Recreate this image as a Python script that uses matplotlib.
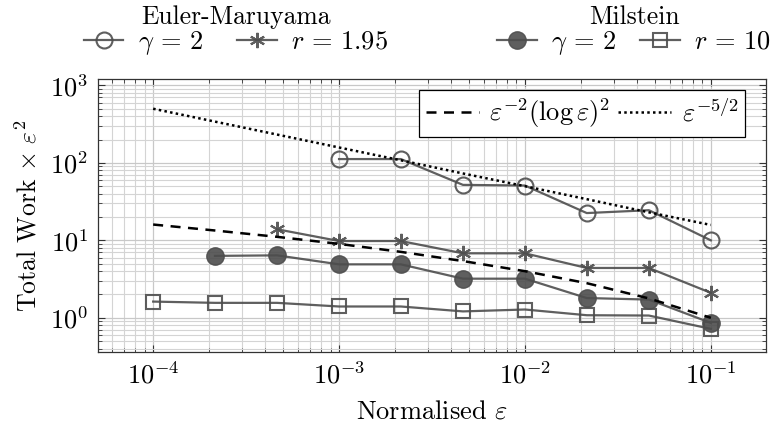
import matplotlib
matplotlib.use("Agg")
import matplotlib.pyplot as plt

plt.rcParams["font.family"] = "serif"
plt.rcParams["font.serif"] = ["cmr10"]
plt.rcParams["mathtext.fontset"] = "cm"
plt.rcParams["axes.formatter.use_mathtext"] = True

# ---------------------------------------------------------------------------
# Data
# ---------------------------------------------------------------------------
eps = [1e-4, 2.15e-4, 4.64e-4, 1e-3, 2.15e-3, 4.64e-3, 1e-2, 2.15e-2, 4.64e-2, 1e-1]

em_gamma_x = [1e-3, 2.15e-3, 4.64e-3, 1e-2, 2.15e-2, 4.64e-2, 1e-1]
em_gamma_y = [112, 112, 52, 51, 22.5, 24.5, 10.0]

em_r_x = [4.64e-4, 1e-3, 2.15e-3, 4.64e-3, 1e-2, 2.15e-2, 4.64e-2, 1e-1]
em_r_y = [13.9, 9.8, 9.8, 6.8, 6.8, 4.4, 4.4, 2.1]

mil_gamma_x = [2.15e-4, 4.64e-4, 1e-3, 2.15e-3, 4.64e-3, 1e-2, 2.15e-2, 4.64e-2, 1e-1]
mil_gamma_y = [6.3, 6.4, 4.9, 4.9, 3.2, 3.2, 1.8, 1.72, 0.86]

mil_r_x = eps
mil_r_y = [1.62, 1.56, 1.56, 1.40, 1.40, 1.21, 1.28, 1.08, 1.07, 0.72]

# reference slopes
ref_log_y = [16.0, 13.4, 11.1, 9.0, 7.1, 5.4, 4.0, 2.8, 1.78, 1.0]
ref_pow_y = [500, 341, 232, 158, 108, 73, 50, 34, 23, 15.8]

GREY = "#4d4d4d"

fig = plt.figure(figsize=(7.8, 4.29), dpi=100)
ax = fig.add_axes([98 / 780, 1 - 352 / 429, (766 - 98) / 780, (352 - 79) / 429])

ax.set_xscale("log")
ax.set_yscale("log")
ax.set_xlim(5.05e-5, 0.198)
ax.set_ylim(0.362, 1210)

ax.grid(True, which="major", color="#c8c8c8", linewidth=0.9)
ax.grid(True, which="minor", color="#d4d4d4", linewidth=0.8)
ax.set_axisbelow(True)

line_kw = dict(color=GREY, linewidth=1.6, alpha=0.9)
h1, = ax.plot(em_gamma_x, em_gamma_y, marker="o", markersize=11.5,
              markerfacecolor="none", markeredgecolor=GREY, markeredgewidth=1.5, **line_kw)
h2, = ax.plot(em_r_x, em_r_y, marker=(6, 2, 0), markersize=11,
              markeredgecolor=GREY, markeredgewidth=1.5, **line_kw)
h3, = ax.plot(mil_gamma_x, mil_gamma_y, marker="o", markersize=12.5,
              markerfacecolor=GREY, markeredgecolor=GREY, **line_kw)
h4, = ax.plot(mil_r_x, mil_r_y, marker="s", markersize=10.5,
              markerfacecolor="none", markeredgecolor=GREY, markeredgewidth=1.5, **line_kw)

r1, = ax.plot(eps, ref_log_y, color="black", linestyle=(0, (4, 3)), linewidth=1.8)
r2, = ax.plot(eps, ref_pow_y, color="black", linestyle=(0, (1, 1.3)), linewidth=1.8)

ax.tick_params(which="both", direction="in", top=True, right=True, color="#333333")
ax.tick_params(which="major", length=5, width=0.8, labelsize=19, pad=7)
ax.tick_params(which="minor", length=3, width=0.6)
for s in ax.spines.values():
    s.set_linewidth(0.9)
    s.set_color("#333333")

ax.set_xlabel(r"Normalised $\varepsilon$", fontsize=19, labelpad=8)
ax.set_ylabel(r"Total Work $\times\ \varepsilon^2$", fontsize=18.5, labelpad=6)

leg = ax.legend([r1, r2], [r"$\varepsilon^{-2}(\log\varepsilon)^2$", r"$\varepsilon^{-5/2}$"],
                ncol=2, loc="upper right", bbox_to_anchor=(0.969, 0.96), fontsize=19,
                fancybox=False, framealpha=1, edgecolor="black", handlelength=2.0,
                columnspacing=0.3, handletextpad=0.4, borderpad=0.25, borderaxespad=0.0)
leg.get_frame().set_linewidth(0.9)

common = dict(ncol=2, title_fontsize=18.5, fontsize=19, loc="center", frameon=False,
              handlelength=1.5, handletextpad=0.55, borderpad=0.0,
              labelspacing=0.0, borderaxespad=0.0)
em = fig.legend([h1, h2], [r"$\gamma\,=\,2$", r"$r\,=\,1.95$"], title="Euler-Maruyama",
                bbox_to_anchor=(236 / 780, 1 - 31 / 429), columnspacing=1.3, **common)
mil = fig.legend([h3, h4], [r"$\gamma\,=\,2$", r"$r\,=\,10$"], title="Milstein",
                 bbox_to_anchor=(634 / 780, 1 - 31 / 429), columnspacing=0.9, **common)

fig.savefig("out.png", dpi=100)
